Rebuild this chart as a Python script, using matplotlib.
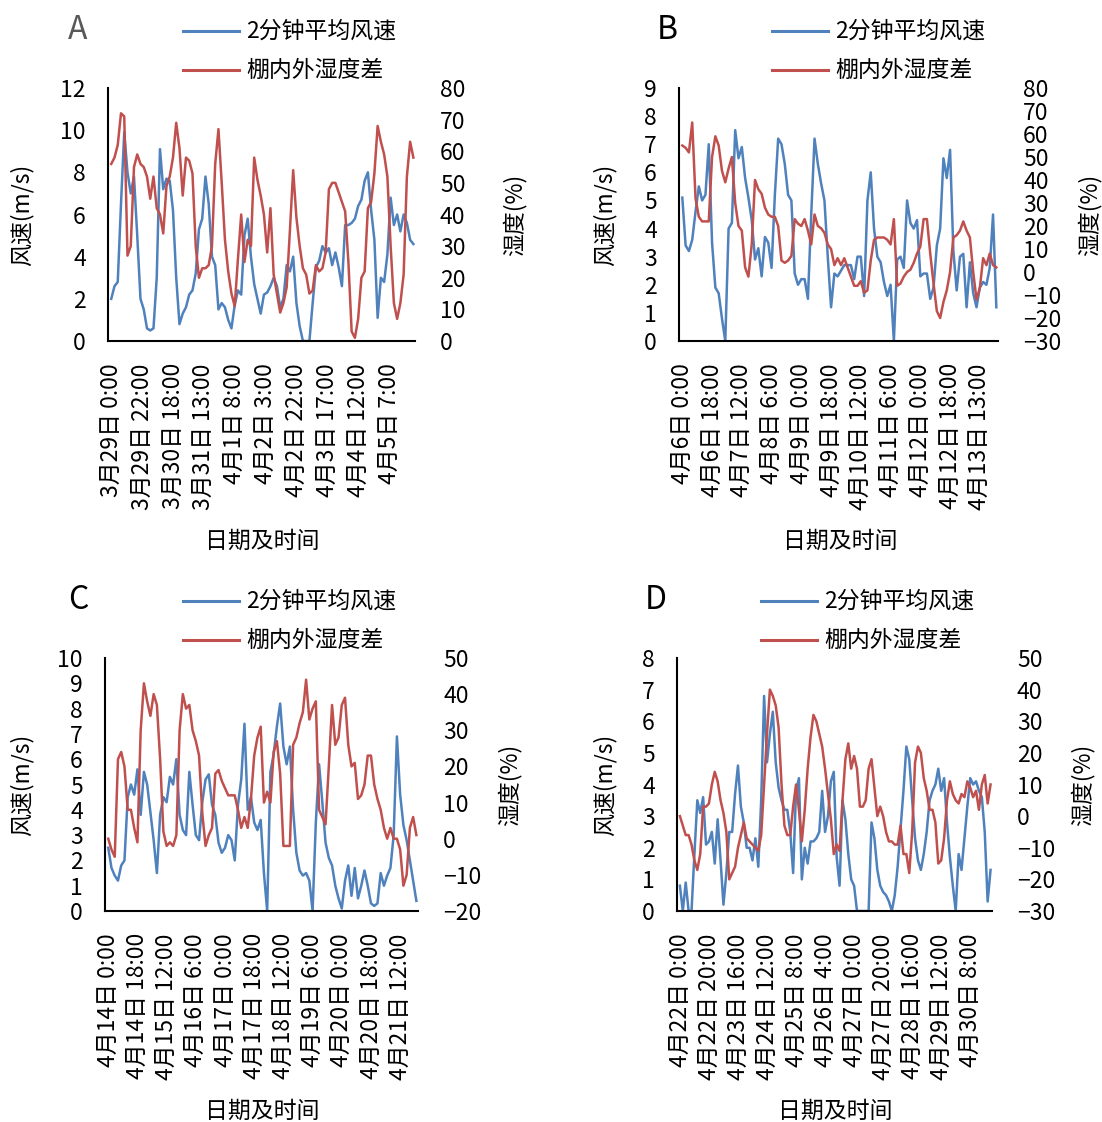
import numpy as np
import matplotlib.pyplot as plt
from matplotlib.lines import Line2D

plt.rcParams['font.family'] = ['Noto Sans CJK SC', 'DejaVu Sans']

W, H = 1102, 1122
BLUE = '#4F81BD'
RED = '#C0504D'

WIND_NAME = '2分钟平均风速'
HUM_NAME = '棚内外湿度差'

# panel A: 3/29 - 4/5, one value every 2 h
wind_a = [2.0, 2.6, 2.8, 6.5, 9.9, 8.0, 7.0, 7.8, 5.0, 2.0, 1.5, 0.6, 0.5, 0.6, 3.0,
          9.1, 7.2, 7.7, 7.6, 6.2, 3.0, 0.8, 1.3, 1.6, 2.2, 2.4, 3.2, 5.3, 5.8, 7.8,
          6.5, 4.0, 3.6, 1.5, 1.8, 1.6, 1.0, 0.6, 1.7, 2.4, 2.2, 5.0, 5.8, 4.0, 2.7,
          2.0, 1.3, 2.2, 2.3, 2.6, 3.0, 2.6, 1.6, 2.0, 3.6, 3.3, 4.0, 1.8, 0.7, 0.0,
          0.0, 0.0, 1.8, 3.5, 3.8, 4.5, 4.2, 4.4, 3.6, 4.2, 3.5, 2.6, 5.5, 5.5, 5.6,
          5.8, 6.4, 6.7, 7.6, 8.0, 6.2, 4.8, 1.1, 3.0, 2.8, 4.1, 6.8, 5.5, 6.0, 5.2,
          6.0, 5.6, 4.8, 4.6]
hum_a = [56, 58, 62, 72, 71, 27, 30, 55, 59, 56, 55, 52, 45, 52, 42, 40, 34, 49, 52, 58,
         69, 61, 46, 58, 57, 53, 30, 20, 23, 23, 24, 30, 56, 67, 50, 32, 22, 15, 11, 26,
         40, 25, 32, 30, 58, 51, 46, 40, 28, 42, 21, 15, 9, 12, 17, 35, 54, 39, 30, 23,
         21, 15, 16, 24, 22, 23, 28, 48, 50, 50, 47, 44, 41, 25, 3, 1, 7, 20, 22, 42,
         44, 53, 68, 63, 59, 52, 30, 12, 7, 12, 21, 52, 63, 58]
ticks_a = ['3月29日 0:00', '3月29日 22:00', '3月30日 18:00', '3月31日 13:00', '4月1日 8:00',
           '4月2日 3:00', '4月2日 22:00', '4月3日 17:00', '4月4日 12:00', '4月5日 7:00']

# panel B: 4/6 - 4/13
wind_b = [5.1, 3.4, 3.2, 3.6, 4.6, 5.5, 5.0, 5.2, 7.0, 3.5, 1.9, 1.7, 0.8, 0.0, 4.0,
          4.2, 7.5, 6.5, 6.9, 5.8, 5.1, 4.3, 2.9, 3.3, 2.3, 3.7, 3.5, 2.6, 5.2, 7.2,
          7.0, 6.3, 5.2, 5.0, 2.4, 2.0, 2.2, 2.2, 1.5, 4.5, 7.2, 6.3, 5.6, 5.0, 3.0,
          1.2, 2.4, 2.3, 2.5, 2.7, 2.7, 2.7, 2.2, 3.0, 3.0, 1.6, 5.0, 6.0, 4.0, 3.0,
          2.8, 2.1, 1.6, 2.0, 0.0, 2.9, 3.0, 2.6, 5.0, 4.2, 4.0, 4.3, 2.3, 2.4, 2.4,
          1.5, 1.9, 3.4, 4.0, 6.5, 5.8, 6.8, 3.2, 1.8, 3.0, 3.1, 1.2, 2.8, 1.7, 1.2,
          1.9, 2.1, 2.0, 2.6, 4.5, 1.2]
hum_b = [55, 54, 52, 65, 32, 24, 22, 22, 22, 50, 59, 55, 44, 39, 45, 50, 30, 20, 18, 2,
         -2, 12, 40, 36, 34, 28, 25, 24, 24, 20, 5, 4, 5, 7, 23, 21, 20, 23, 18, 12,
         25, 20, 19, 17, 12, 10, 3, 6, 3, 6, 2, -2, -6, -6, -4, -9, -8, 5, 14, 15,
         15, 15, 14, 12, 23, -6, -5, -2, 0, 1, 4, 8, 11, 23, 23, 8, -5, -17, -20, -13,
         -8, 0, 15, 16, 18, 22, 18, 15, 0, -12, -7, 6, 3, 8, 3, 2]
ticks_b = ['4月6日 0:00', '4月6日 18:00', '4月7日 12:00', '4月8日 6:00', '4月9日 0:00',
           '4月9日 18:00', '4月10日 12:00', '4月11日 6:00', '4月12日 0:00', '4月12日 18:00',
           '4月13日 13:00']

# panel C: 4/14 - 4/21
wind_c = [2.5, 1.7, 1.4, 1.2, 1.8, 2.0, 4.5, 5.0, 4.6, 5.6, 3.8, 5.5, 5.0, 3.9, 2.8,
          1.5, 3.8, 4.5, 4.3, 5.3, 5.0, 6.0, 3.8, 3.2, 3.0, 5.5, 4.2, 3.0, 2.8, 4.3,
          5.2, 5.4, 4.2, 3.8, 2.7, 2.3, 2.5, 3.0, 2.8, 2.0, 4.2, 5.2, 7.4, 4.0, 4.5,
          3.5, 3.2, 3.6, 1.5, 0.0, 5.5, 6.2, 7.3, 8.2, 6.5, 5.8, 6.5, 4.0, 2.3, 1.6,
          1.4, 1.5, 1.2, 0.0, 3.5, 5.8, 4.3, 2.7, 2.1, 1.8, 1.0, 0.5, 0.1, 1.2, 1.8,
          0.6, 1.7, 0.5, 1.0, 1.6, 1.0, 0.3, 0.2, 0.3, 1.5, 1.0, 1.4, 1.7, 3.0, 6.9,
          4.6, 3.4, 2.8, 2.0, 1.2, 0.4]
hum_c = [0, -3, -5, 22, 24, 20, 8, 8, 3, -1, 30, 43, 38, 34, 40, 37, 22, 2, -2, -1,
         -2, 1, 30, 40, 36, 37, 30, 27, 23, 7, -2, 1, 3, 18, 19, 16, 14, 12, 12, 12,
         8, 3, 6, 3, 11, 23, 28, 31, 10, 13, 10, 24, 27, 18, -2, -2, -2, 26, 28, 32,
         35, 44, 33, 36, 38, 8, 6, 4, 20, 37, 26, 28, 37, 39, 26, 20, 21, 11, 12, 15,
         23, 23, 15, 11, 8, 3, 0, 3, 0, 0, -3, -13, -10, 3, 6, 1]
ticks_c = ['4月14日 0:00', '4月14日 18:00', '4月15日 12:00', '4月16日 6:00', '4月17日 0:00',
           '4月17日 18:00', '4月18日 12:00', '4月19日 6:00', '4月20日 0:00', '4月20日 18:00',
           '4月21日 12:00']

# panel D: 4/22 - 4/30
wind_d = [0.8, 0.0, 0.9, 0.0, 0.0, 1.8, 3.5, 3.1, 3.6, 2.1, 2.2, 2.5, 1.5, 2.9, 1.6,
          0.2, 1.2, 2.5, 2.5, 3.7, 4.6, 3.3, 2.8, 2.0, 2.0, 1.6, 2.3, 1.4, 3.5, 6.8,
          4.7, 5.6, 6.3, 4.7, 3.9, 3.5, 3.2, 3.2, 2.5, 1.2, 3.8, 4.2, 1.0, 2.0, 1.5,
          2.2, 2.2, 2.3, 2.5, 3.8, 2.5, 3.0, 4.1, 4.4, 1.7, 0.8, 3.5, 2.9, 1.8, 1.0,
          0.8, 0.0, 0.0, 0.0, 0.0, 0.0, 2.8, 2.3, 1.3, 0.8, 0.6, 0.5, 0.3, 0.0, 0.5,
          1.4, 2.6, 3.8, 5.2, 4.8, 3.5, 2.3, 1.6, 1.3, 1.8, 2.5, 3.5, 3.8, 4.0, 4.5,
          3.8, 4.2, 2.8, 1.7, 0.8, 0.0, 1.8, 1.3, 2.3, 3.3, 4.2, 4.0, 4.1, 3.8, 3.6,
          2.5, 0.3, 1.3]
hum_d = [0, -3, -6, -6, -9, -14, -17, -12, 3, 3, 4, 10, 14, 11, 5, 1, -5, -20, -18, -16,
         -10, -6, -2, -7, -8, -9, -10, -11, -6, 10, 26, 40, 38, 35, 28, 10, -3, -6, -6, 3,
         10, 2, -8, 2, 15, 25, 32, 30, 26, 22, 15, 7, -1, -12, -9, -11, 5, 18, 23, 15,
         19, 15, 3, 3, 5, 15, 18, 9, 0, 3, 0, -5, -8, -8, -9, -9, -3, -12, -12, -18,
         -5, 17, 22, 20, 12, 8, 2, 2, -2, -15, -14, -7, 5, 11, 7, 5, 4, 7, 6, 11,
         9, 6, 8, 2, 10, 13, 4, 10]
ticks_d = ['4月22日 0:00', '4月22日 20:00', '4月23日 16:00', '4月24日 12:00', '4月25日 8:00',
           '4月26日 4:00', '4月27日 0:00', '4月27日 20:00', '4月28日 16:00', '4月29日 12:00',
           '4月30日 8:00']

fig = plt.figure(figsize=(W / 100, H / 100), dpi=100)


def fx(x):
    return x / W


def fy(y):
    return 1 - y / H


def draw_panel(box, letter, letter_color, wind, hum, tick_every, tick_labels,
               wind_max, wind_step, hum_min, hum_max, leg_x, lab_x, xlab_x):
    left, top, right, bottom = box
    ax = fig.add_axes([fx(left), fy(bottom), fx(right - left), (bottom - top) / H])
    x = np.arange(len(wind)) * 2
    ax.plot(x, wind, color=BLUE, lw=1.8, solid_joinstyle='round')
    ax.set_xlim(-2, x[-1] + 1)
    ax.set_ylim(0, wind_max)
    ax.set_yticks(np.arange(0, wind_max + 0.01, wind_step))
    ax.set_xticks(np.arange(len(tick_labels)) * tick_every)
    ax.set_xticklabels(tick_labels, rotation=90, fontsize=16.5)
    ax.tick_params(axis='x', length=0, pad=16)
    ax.tick_params(axis='y', length=0, pad=16, labelsize=16.5)
    for s in ['top', 'right']:
        ax.spines[s].set_visible(False)
    ax.spines['left'].set_linewidth(1.5)
    ax.spines['bottom'].set_linewidth(1.5)

    ax2 = ax.twinx()
    ax2.plot(x, hum, color=RED, lw=1.8, solid_joinstyle='round')
    ax2.set_ylim(hum_min, hum_max)
    ax2.set_yticks(np.arange(hum_min, hum_max + 1, 10))
    ax2.tick_params(axis='y', length=0, pad=18, labelsize=16.5)
    for s in ax2.spines.values():
        s.set_visible(False)

    # axis titles
    fig.text(fx(lab_x[0]), fy((top + bottom) / 2), '风速(m/s)', rotation=90,
             ha='center', va='center', fontsize=16.5)
    fig.text(fx(lab_x[1]), fy((top + bottom) / 2), '湿度(%)', rotation=90,
             ha='center', va='center', fontsize=16.5)
    fig.text(fx(xlab_x), fy(bottom + 200), '日期及时间', ha='center', va='center', fontsize=16.5)
    fig.text(fx(leg_x - 105), fy(top - 58), letter, ha='center', va='center',
             fontsize=23, color=letter_color)

    # legend
    for row, (col, name) in enumerate([(BLUE, WIND_NAME), (RED, HUM_NAME)]):
        yy = fy(top - 57 + row * 39)
        fig.add_artist(Line2D([fx(leg_x), fx(leg_x + 56)], [yy, yy], color=col, lw=2.2,
                              transform=fig.transFigure))
        fig.text(fx(leg_x + 63), yy, name, ha='left', va='center', fontsize=16.5)


draw_panel((108, 88, 415, 341), 'A', '#595959', wind_a, hum_a, 19, ticks_a,
           12, 2, 0, 80, 183, (22, 515), 262)
draw_panel((679, 88, 998, 341), 'B', 'black', wind_b, hum_b, 18, ticks_b,
           9, 1, -30, 80, 772, (605, 1090), 840)
draw_panel((105, 658, 418, 911), 'C', 'black', wind_c, hum_c, 18, ticks_c,
           10, 1, -20, 50, 183, (22, 510), 262)
draw_panel((677, 658, 992, 911), 'D', 'black', wind_d, hum_d, 20, ticks_d,
           8, 1, -30, 50, 761, (605, 1083), 835)

fig.savefig('out.png', dpi=100, facecolor='white')
